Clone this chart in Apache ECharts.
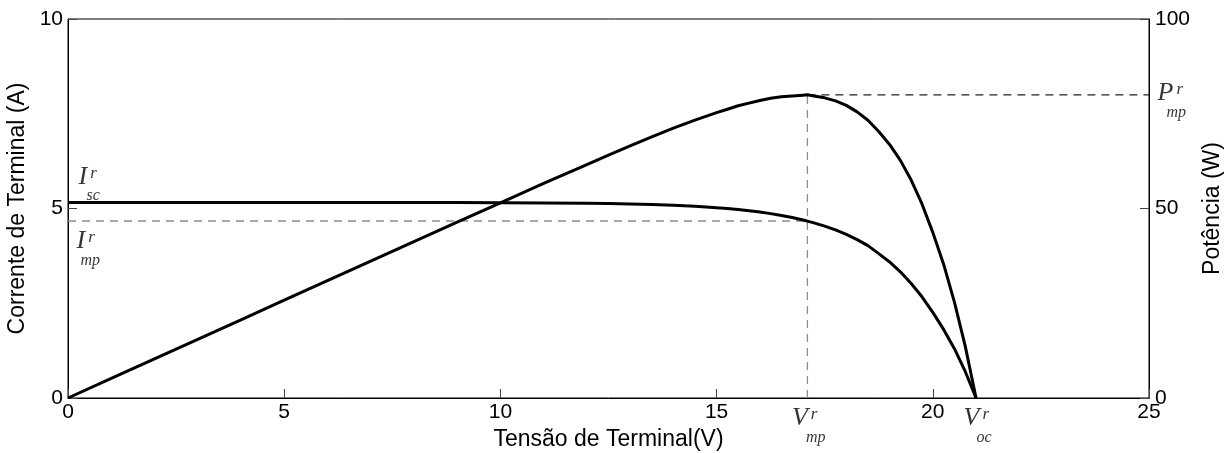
<!DOCTYPE html>
<html>
<head>
<meta charset="utf-8">
<script src="https://cdn.jsdelivr.net/npm/echarts@6/dist/echarts.min.js"></script>
<style>html,body{margin:0;padding:0;background:#fff}#c{width:1231px;height:453px}</style>
</head>
<body>
<div id="c"></div>
<script>
// ---- data ----
const voltage = [0,1,2,3,4,5,6,7,8,9,10,11,12,12.5,13,13.5,14,14.5,15,15.25,15.5,15.75,16,16.25,16.5,16.75,17,17.1,17.25,17.5,17.75,18,18.25,18.5,18.75,19,19.25,19.5,19.75,20,20.25,20.5,20.75,21];
const current = [5.16,5.16,5.16,5.16,5.16,5.16,5.16,5.16,5.16,5.16,5.153,5.147,5.137,5.129,5.118,5.103,5.083,5.057,5.021,4.998,4.972,4.941,4.906,4.865,4.817,4.761,4.697,4.668,4.622,4.535,4.434,4.316,4.180,4.021,3.81,3.59,3.33,3.02,2.67,2.26,1.81,1.30,0.70,0];
const power = [0,5.16,10.32,15.48,20.64,25.8,30.96,36.12,41.28,46.4,51.5,56.6,61.6,64.1,66.5,68.9,71.2,73.3,75.3,76.2,77.1,77.8,78.5,79.1,79.5,79.7,79.9,80.0,79.7,79.2,78.4,77.2,75.5,73.3,70.3,66.9,62.7,57.5,51.2,43.7,35.3,25.3,13.7,0];
const Vmp = 17.1, Imp = 4.67, Pmp = 80, Isc = 5.16, Voc = 21;
const xTicks = {min: 0, max: 25, interval: 5};
const yLeftTicks = {min: 0, max: 10, interval: 5};
const yRightTicks = {min: 0, max: 100, interval: 50};

const ivData = voltage.map((v, i) => [v, current[i]]);
const pvData = voltage.map((v, i) => [v, power[i]]);

const serif = 'Liberation Serif';
function richFor(subPad) {
  return {
    b: {fontFamily: serif, fontStyle: 'italic', fontSize: 26, lineHeight: 24, color: '#000'},
    s: {fontFamily: serif, fontStyle: 'italic', fontSize: 17, lineHeight: 24, verticalAlign: 'top', padding: [0,0,0,3], color: '#000'},
    u: {fontFamily: serif, fontStyle: 'italic', fontSize: 16, lineHeight: 14, padding: [0,0,0,subPad], color: '#000'}
  };
}
function ann(x, y, text, pos, yIdx, subPad) {
  return {
    type: 'scatter', yAxisIndex: yIdx, clip: false, silent: true,
    symbolSize: 1, itemStyle: {color: 'rgba(0,0,0,0)'},
    data: [[x, y]],
    label: {show: true, position: pos, formatter: text, rich: richFor(subPad), align: 'left'}
  };
}

const font = 'Liberation Sans';
const chart = echarts.init(document.getElementById('c'));
chart.setOption({
  animation: false,
  backgroundColor: '#fff',
  grid: {left: 68, right: 82, top: 19, bottom: 55, show: true, borderColor: '#000', borderWidth: 1,
         containLabel: false, outerBoundsMode: 'none'},
  xAxis: {
    type: 'value', min: xTicks.min, max: xTicks.max, interval: xTicks.interval,
    name: 'Tensão de Terminal(V)', nameLocation: 'middle', nameGap: 27,
    nameTextStyle: {fontFamily: font, fontSize: 23, color: '#000'},
    axisLine: {lineStyle: {color: '#000', width: 1}},
    axisTick: {inside: true, length: 9, lineStyle: {color: '#444'}},
    axisLabel: {fontFamily: font, fontSize: 21, color: '#000', margin: 4},
    splitLine: {show: false}
  },
  yAxis: [{
    type: 'value', min: yLeftTicks.min, max: yLeftTicks.max, interval: yLeftTicks.interval,
    name: 'Corrente de Terminal (A)', nameLocation: 'middle', nameGap: 39, nameRotate: 90,
    nameTextStyle: {fontFamily: font, fontSize: 23, color: '#000'},
    axisLine: {show: true, lineStyle: {color: '#000', width: 1}},
    axisTick: {show: true, inside: true, length: 9, lineStyle: {color: '#444'}},
    axisLabel: {fontFamily: font, fontSize: 21, color: '#000', margin: 5},
    splitLine: {show: false}
  }, {
    type: 'value', position: 'right', min: yRightTicks.min, max: yRightTicks.max, interval: yRightTicks.interval,
    name: 'Potência (W)', nameLocation: 'middle', nameGap: 51, nameRotate: 90,
    nameTextStyle: {fontFamily: font, fontSize: 23, color: '#000'},
    axisLine: {show: true, lineStyle: {color: '#000', width: 1}},
    axisTick: {show: true, inside: true, length: 9, lineStyle: {color: '#444'}},
    axisLabel: {fontFamily: font, fontSize: 21, color: '#000', margin: 6},
    splitLine: {show: false}
  }],
  series: [
    {type: 'line', yAxisIndex: 0, data: [[xTicks.min, Imp], [Vmp, Imp]], symbol: 'none', silent: true,
     lineStyle: {color: '#8c8c8c', width: 1.3, type: [8, 6]}},
    {type: 'line', yAxisIndex: 1, data: [[Vmp, 0], [Vmp, Pmp]], symbol: 'none', silent: true,
     lineStyle: {color: '#8c8c8c', width: 1.3, type: [8, 6]}},
    {type: 'line', yAxisIndex: 1, data: [[Vmp, Pmp], [xTicks.max, Pmp]], symbol: 'none', silent: true,
     lineStyle: {color: '#222', width: 1.3, type: [8, 6]}},
    {type: 'line', yAxisIndex: 0, data: ivData, symbol: 'none',
     lineStyle: {color: '#000', width: 3, join: 'round'}},
    {type: 'line', yAxisIndex: 1, data: pvData, symbol: 'none',
     lineStyle: {color: '#000', width: 3, join: 'round'}},
    ann(xTicks.min, Isc, '{b|I}{s|r}\n{u|sc}', [11, -37], 0, 8),
    ann(xTicks.min, Imp, '{b|I}{s|r}\n{u|mp}', [9, 9], 0, 4),
    ann(xTicks.max, Pmp, '{b|P}{s|r}\n{u|mp}', [9, -13], 1, 9),
    ann(Vmp, 0, '{b|V}{s|r}\n{u|mp}', [-15, 9], 0, 14),
    ann(Voc, 0, '{b|V}{s|r}\n{u|oc}', [-12, 9], 0, 13)
  ]
});
</script>
</body>
</html>
